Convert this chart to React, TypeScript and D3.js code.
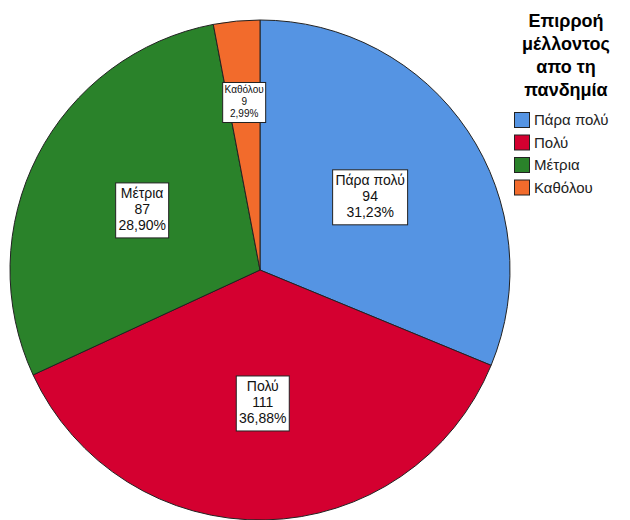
import React, { useEffect, useRef } from "react";
import * as d3 from "d3";

const categories = ["Πάρα πολύ", "Πολύ", "Μέτρια", "Καθόλου"];
const counts = [94, 111, 87, 9];
const percentLabels = ["31,23%", "36,88%", "28,90%", "2,99%"];
const colors = ["#5594e3", "#d40030", "#2a822a", "#f26b2c"];
const legendTitle = ["Επιρροή", "μέλλοντος", "απο τη", "πανδημία"];

const W = 630;
const H = 520;
const cx = 260;
const cy = 270;
const R = 250;

export default function App() {
  const ref = useRef<SVGSVGElement>(null);

  useEffect(() => {
    const svg = d3.select(ref.current);
    svg.selectAll("*").remove();

    const data = categories.map((c, i) => ({ name: c, value: counts[i], pct: percentLabels[i], color: colors[i] }));
    const pie = d3.pie().sort(null).value((d) => d.value);
    const arcs = pie(data);
    const total = d3.sum(counts);

    const arc = d3.arc().innerRadius(0).outerRadius(R);
    const g = svg.append("g").attr("transform", `translate(${cx},${cy})`);

    g.selectAll("path")
      .data(arcs)
      .join("path")
      .attr("d", arc)
      .attr("fill", (d) => d.data.color)
      .attr("stroke", "#222")
      .attr("stroke-width", 1);

    // labels: white boxes with name, count, percent
    arcs.forEach((d) => {
      const small = d.data.value / total < 0.05;
      const lr = small ? R * 0.675 : R * 0.53;
      const labelArc = d3.arc().innerRadius(lr).outerRadius(lr);
      const [x, y] = labelArc.centroid(d);
      const fs = small ? 10 : 14;
      const lh = small ? 12 : 16;
      const lines = [d.data.name, String(d.data.value), d.data.pct];
      const lg = g.append("g").attr("transform", `translate(${x},${y})`);
      const rect = lg.append("rect").attr("fill", "#fff").attr("stroke", "#222").attr("stroke-width", 1);
      const texts = lg
        .selectAll("text")
        .data(lines)
        .join("text")
        .attr("text-anchor", "middle")
        .attr("font-family", "Arial, 'Liberation Sans', sans-serif")
        .attr("font-size", fs)
        .attr("fill", "#111")
        .attr("y", (_, i) => (i - 1) * lh + fs * 0.35)
        .text((t) => t);
      let maxW = 0;
      texts.each(function () {
        maxW = Math.max(maxW, (this as SVGTextElement).getComputedTextLength());
      });
      const padX = small ? 2 : 3;
      const bh = lh * 3 + (small ? 4 : 7);
      rect
        .attr("x", Math.round(-maxW / 2 - padX) + 0.5)
        .attr("y", Math.round(-bh / 2) + 0.5)
        .attr("width", Math.round(maxW + padX * 2))
        .attr("height", Math.round(bh));
    });

    // legend title
    svg
      .append("g")
      .selectAll("text")
      .data(legendTitle)
      .join("text")
      .attr("x", 566)
      .attr("y", (_, i) => 27 + i * 23)
      .attr("text-anchor", "middle")
      .attr("font-family", "Arial, 'Liberation Sans', sans-serif")
      .attr("font-weight", "bold")
      .attr("font-size", 18)
      .attr("fill", "#000")
      .text((t) => t);

    const leg = svg
      .append("g")
      .selectAll("g")
      .data(data)
      .join("g")
      .attr("transform", (_, i) => `translate(514,${112 + i * 22.5})`);
    leg
      .append("rect")
      .attr("x", 0.5)
      .attr("y", 0.5)
      .attr("width", 15)
      .attr("height", 15)
      .attr("fill", (d) => d.color)
      .attr("stroke", "#222")
      .attr("stroke-width", 1);
    leg
      .append("text")
      .attr("x", 20)
      .attr("y", 13)
      .attr("font-family", "Arial, 'Liberation Sans', sans-serif")
      .attr("font-size", 15)
      .attr("fill", "#222")
      .text((d) => d.name);
  }, []);

  return (
    <svg
      ref={ref}
      width={W}
      height={H}
      style={{ position: "absolute", left: 0, top: 0, background: "#fff" }}
    />
  );
}
